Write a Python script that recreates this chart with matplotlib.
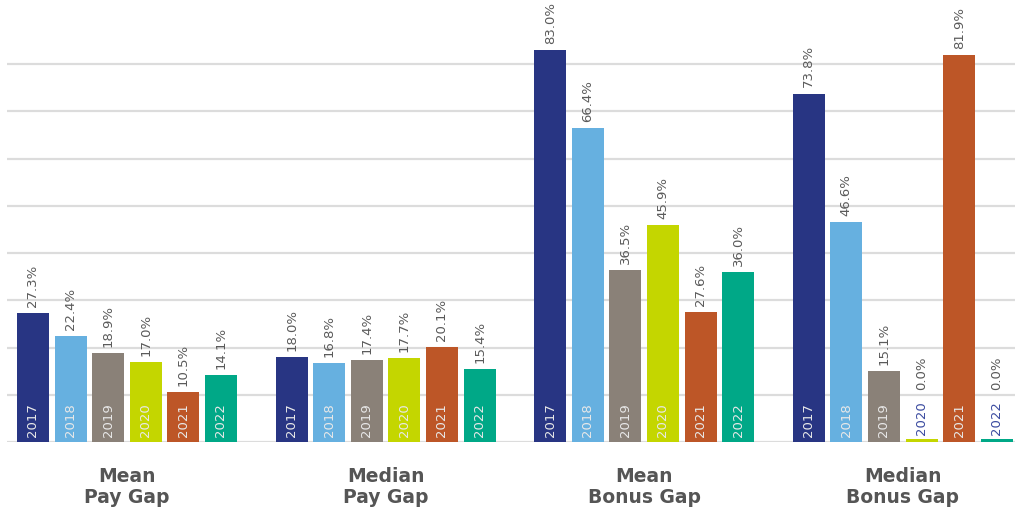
import matplotlib.pyplot as plt
import numpy as np

groups = ["Mean\nPay Gap", "Median\nPay Gap", "Mean\nBonus Gap", "Median\nBonus Gap"]
years = ["2017", "2018", "2019", "2020", "2021", "2022"]
values = [
    [27.3, 22.4, 18.9, 17.0, 10.5, 14.1],
    [18.0, 16.8, 17.4, 17.7, 20.1, 15.4],
    [83.0, 66.4, 36.5, 45.9, 27.6, 36.0],
    [73.8, 46.6, 15.1, 0.0, 81.9, 0.0],
]
colors = ["#283583", "#66b0e0", "#8a8178", "#c4d600", "#bd5627", "#00a887"]


def main():
    fig = plt.figure(figsize=(10.15, 5.14), dpi=100)
    ax = fig.add_axes([7 / 1015, 72 / 514, 1008 / 1015, 442 / 514])

    step = 0.1454
    width = 0.1237
    x = np.arange(len(groups))

    for j, year in enumerate(years):
        vals = np.array([v[j] for v in values])
        pos = x + (j - 2.5) * step
        shown = np.where(vals == 0, 0.6, vals)
        ax.bar(pos, shown, width=width, color=colors[j], zorder=3)
        for p, v in zip(pos, vals):
            if v == 0:
                # jahr über dem leeren balken
                ax.text(p, 1.4, year, rotation=90, ha="center", va="bottom",
                        fontsize=9.5, color="#3b4ba0", zorder=4)
                ax.text(p, 11.0, f"{v:.1f}%", rotation=90, ha="center",
                        va="bottom", fontsize=9.5, color="#5a5a5a", zorder=4)
            else:
                ax.text(p, 1.0, year, rotation=90, ha="center", va="bottom",
                        fontsize=9.5, color="#e8e8e8", zorder=4)
                ax.text(p, v + 1.3, f"{v:.1f}%", rotation=90, ha="center",
                        va="bottom", fontsize=9.5, color="#5a5a5a", zorder=4)

    for i, g in enumerate(groups):
        ax.text(i, -5.3, g, ha="center", va="top", fontsize=13.5,
                fontweight="bold", color="#555555", linespacing=1.15,
                clip_on=False)

    ax.set_xlim(-0.464, 3.434)
    ax.set_ylim(0, 93.6)
    ax.set_yticks(np.arange(0, 81, 10))
    ax.grid(axis="y", color="#dcdcdc", linewidth=1.6, zorder=0)
    ax.tick_params(left=False, bottom=False, labelleft=False, labelbottom=False)
    for s in ax.spines.values():
        s.set_visible(False)

    fig.savefig("out.png", dpi=100)


if __name__ == '__main__':
    main()
